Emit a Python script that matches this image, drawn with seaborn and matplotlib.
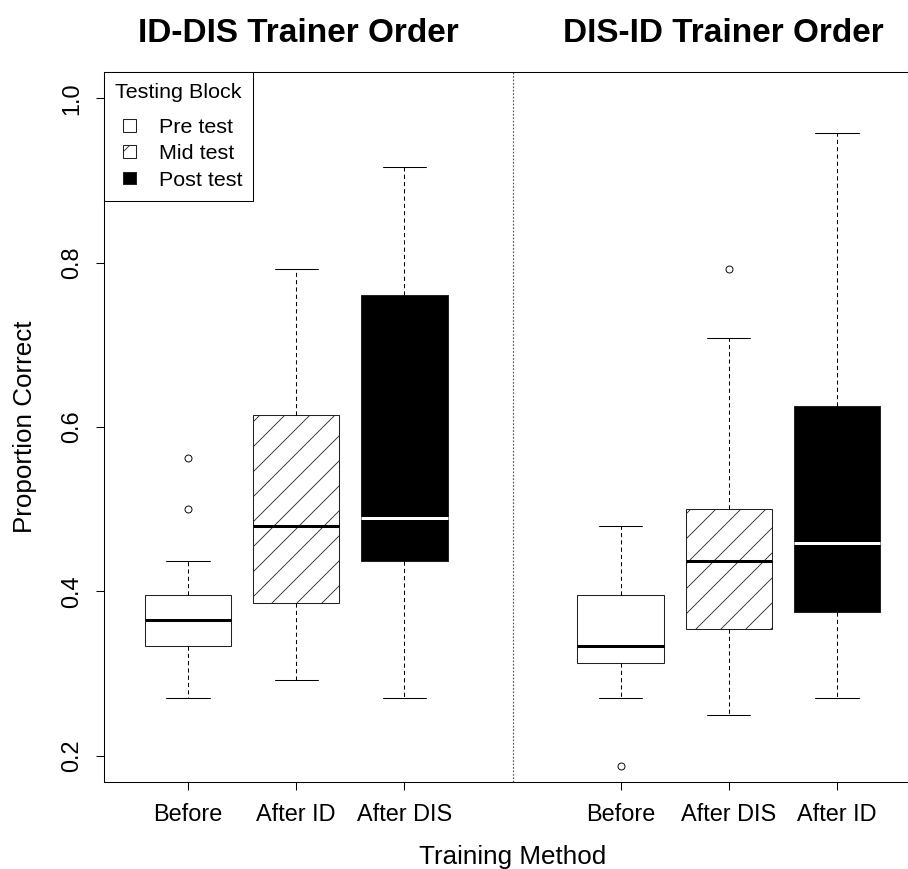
import matplotlib
matplotlib.use("Agg")
import matplotlib.pyplot as plt
import matplotlib.patches as mpatches
import matplotlib.transforms as mtransforms
from matplotlib.legend_handler import HandlerPatch
import seaborn as sns

# Summary statistics (proportion correct) per training method and testing block
tick_labels = ["Before", "After ID", "After DIS", "Before", "After DIS", "After ID"]
testing_block = ["Pre test", "Mid test", "Post test", "Pre test", "Mid test", "Post test"]
whisker_low = [0.2708, 0.2917, 0.2708, 0.2708, 0.2500, 0.2708]
quartile_1 = [0.3333, 0.3854, 0.4375, 0.3125, 0.3542, 0.3750]
median = [0.3646, 0.4792, 0.4896, 0.3333, 0.4375, 0.4583]
quartile_3 = [0.3958, 0.6146, 0.7604, 0.3958, 0.5000, 0.6250]
whisker_high = [0.4375, 0.7917, 0.9167, 0.4792, 0.7083, 0.9583]
outliers = [[0.5000, 0.5625], [], [], [0.1875], [0.7917], []]
order_titles = ["ID-DIS Trainer Order", "DIS-ID Trainer Order"]
legend_labels = ["Pre test", "Mid test", "Post test"]

sns.set_theme(style="ticks")
plt.rcParams["font.family"] = ["Liberation Sans", "DejaVu Sans"]
plt.rcParams["hatch.linewidth"] = 0.8
plt.rcParams["axes.edgecolor"] = "black"
plt.rcParams["xtick.color"] = "black"
plt.rcParams["ytick.color"] = "black"
plt.rcParams["text.color"] = "black"
plt.rcParams["axes.labelcolor"] = "black"

DPI = 75
W, H = 909, 869
fig = plt.figure(figsize=(W / DPI, H / DPI), dpi=DPI)
ax = fig.add_axes([103.6 / W, 1 - 782 / H, 817.8 / W, 710 / H])

positions = [1, 2, 3, 5, 6, 7]
styles = {
    "Pre test": dict(facecolor="white", hatch=None, median="black"),
    "Mid test": dict(facecolor="white", hatch="/", median="black"),
    "Post test": dict(facecolor="black", hatch=None, median="white"),
}

for i, pos in enumerate(positions):
    st = dict(whislo=whisker_low[i], q1=quartile_1[i], med=median[i],
              q3=quartile_3[i], whishi=whisker_high[i], fliers=outliers[i])
    s = styles[testing_block[i]]
    ax.bxp([st], positions=[pos], widths=0.8, capwidths=0.4,
           patch_artist=True, manage_ticks=False,
           boxprops=dict(facecolor=s["facecolor"], edgecolor="#222222",
                         linewidth=1.0, hatch=s["hatch"]),
           medianprops=dict(color=s["median"], linewidth=2.9,
                            solid_capstyle="butt"),
           whiskerprops=dict(color="black", linewidth=1.0,
                             linestyle=(0, (4, 3))),
           capprops=dict(color="black", linewidth=1.0),
           flierprops=dict(marker="o", markerfacecolor="none",
                           markeredgecolor="black", markersize=6.7,
                           markeredgewidth=0.9))

ax.set_xlim(0.22, 7.78)
ax.set_ylim(0.168, 1.032)
ax.axvline(4, color="#555555", linewidth=1.1, linestyle=(0, (1.5, 1.5)))

ax.set_xticks(positions)
ax.set_xticklabels(tick_labels, fontsize=22.5)
yticks = [0.2, 0.4, 0.6, 0.8, 1.0]
ax.set_yticks(yticks)
ax.set_yticklabels([f"{v:.1f}" for v in yticks], fontsize=22.5,
                   rotation=90, va="center")
ax.tick_params(axis="both", direction="out", length=7.7, width=1.0,
               bottom=True, left=True, top=False, right=False)
ax.tick_params(axis="x", pad=12)
ax.tick_params(axis="y", pad=12)
for sp in ax.spines.values():
    sp.set_linewidth(1.0)
    sp.set_color("black")

ax.set_xlabel("Training Method", fontsize=25)
ax.xaxis.set_label_coords(0.5, -0.089)
ax.set_ylabel("Proportion Correct", fontsize=25)
ax.yaxis.set_label_coords(-0.0814, 0.5)

title_tf = mtransforms.blended_transform_factory(ax.transData, fig.transFigure)
for x, t in zip([2.02, 5.95], order_titles):
    ax.text(x, 1 - 41.7 / H, t, transform=title_tf, ha="center",
            va="baseline", fontsize=32, fontweight="bold")


def square_handle(legend, orig_handle, xdescent, ydescent, width, height, fontsize):
    side = 0.6 * fontsize
    return mpatches.Rectangle((width / 2 - side / 2 - xdescent,
                               height / 2 - side / 2 - ydescent), side, side)


handles = [mpatches.Patch(facecolor=styles[b]["facecolor"], edgecolor="#222222",
                          hatch=styles[b]["hatch"], linewidth=1.0, label=b)
           for b in legend_labels]
leg = ax.legend(handles=handles, title="Testing Block", loc="upper left",
                bbox_to_anchor=(0, 1), borderaxespad=0, fontsize=20.6,
                title_fontsize=20.6, frameon=True, fancybox=False,
                edgecolor="black", framealpha=1, borderpad=0.52,
                labelspacing=0.33, handlelength=1.36, handleheight=0.7,
                handletextpad=0.69,
                handler_map={mpatches.Patch: HandlerPatch(patch_func=square_handle)})
leg.get_frame().set_linewidth(1.0)
leg._legend_box.sep = 15.5

fig.savefig("out.png", dpi=DPI)
